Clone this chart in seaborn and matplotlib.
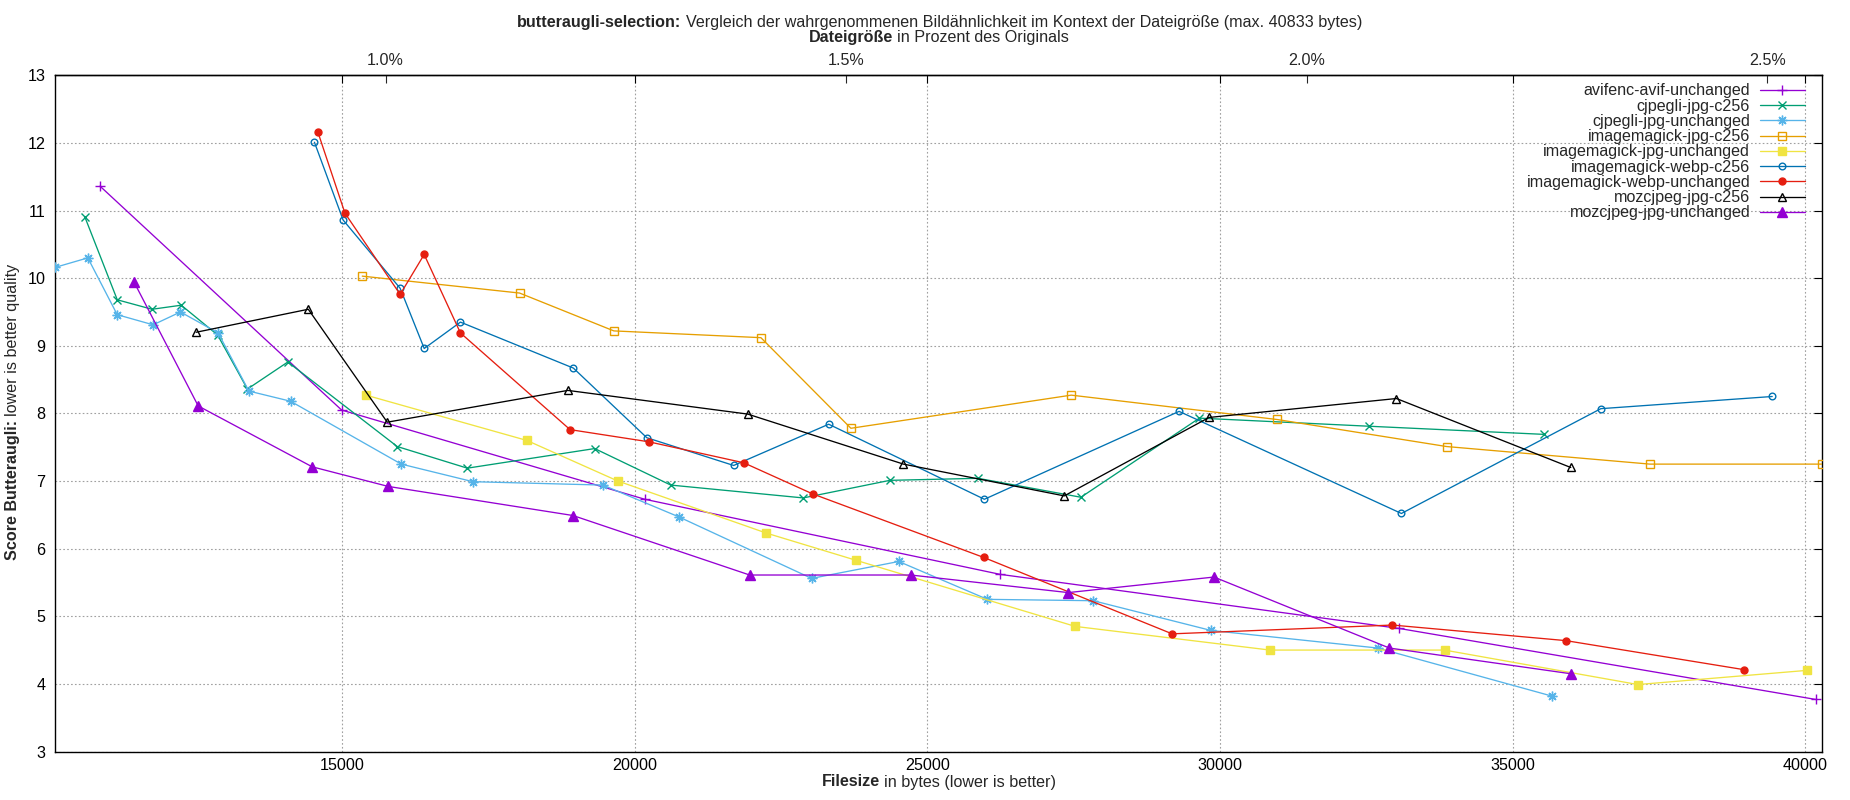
import matplotlib
matplotlib.use("Agg")
import matplotlib.pyplot as plt
import seaborn as sns
import numpy as np
import pandas as pd

# ---------------- data ----------------
series_names = [
    "avifenc-avif-unchanged",
    "cjpegli-jpg-c256",
    "cjpegli-jpg-unchanged",
    "imagemagick-jpg-c256",
    "imagemagick-jpg-unchanged",
    "imagemagick-webp-c256",
    "imagemagick-webp-unchanged",
    "mozcjpeg-jpg-c256",
    "mozcjpeg-jpg-unchanged",
]

avif_unchanged_x = [10862, 14989, 20171, 26240, 33060, 40177]
avif_unchanged_y = [11.36, 8.05, 6.73, 5.62, 4.82, 3.77]

cjpegli_c256_x = [10600, 11156, 11750, 12249, 12870, 13380, 14070, 15940, 17137,
                  19314, 20614, 22878, 24357, 25865, 27622, 29647, 32551, 35531]
cjpegli_c256_y = [10.91, 9.68, 9.54, 9.60, 9.16, 8.36, 8.76, 7.51, 7.19,
                  7.48, 6.94, 6.75, 7.01, 7.04, 6.76, 7.93, 7.81, 7.69]

cjpegli_unchanged_x = [10097, 10653, 11155, 11769, 12236, 12880, 13405, 14117, 16009,
                       17234, 19454, 20751, 23020, 24510, 26024, 27832, 29846, 32694, 35668]
cjpegli_unchanged_y = [10.16, 10.30, 9.46, 9.31, 9.50, 9.19, 8.33, 8.18, 7.25,
                       6.99, 6.94, 6.47, 5.56, 5.81, 5.25, 5.23, 4.79, 4.53, 3.82]

im_jpg_c256_x = [15342, 18030, 19641, 22154, 23692, 27457, 30972, 33870, 37346, 40291]
im_jpg_c256_y = [10.03, 9.78, 9.22, 9.12, 7.78, 8.27, 7.91, 7.51, 7.25, 7.25]

im_jpg_unchanged_x = [15406, 18155, 19710, 22247, 23771, 27525, 30853, 33836, 37140, 40034]
im_jpg_unchanged_y = [8.27, 7.60, 7.00, 6.23, 5.83, 4.85, 4.50, 4.50, 3.99, 4.20]

im_webp_c256_x = [14525, 15015, 15990, 16401, 17020, 18950, 20205, 21689, 23313,
                  25973, 29300, 33099, 36507, 39435]
im_webp_c256_y = [12.01, 10.86, 9.85, 8.96, 9.35, 8.67, 7.64, 7.23, 7.84,
                  6.73, 8.03, 6.52, 8.07, 8.25]

im_webp_unchanged_x = [14584, 15047, 15990, 16400, 17020, 18893, 20239, 21860, 23037,
                       25961, 29181, 32945, 35907, 38955]
im_webp_unchanged_y = [12.16, 10.96, 9.76, 10.35, 9.19, 7.76, 7.58, 7.27, 6.81,
                       5.87, 4.74, 4.87, 4.64, 4.21]

moz_c256_x = [12504, 14420, 15769, 18855, 21928, 24590, 27338, 29812, 33014, 35993]
moz_c256_y = [9.20, 9.54, 7.87, 8.34, 7.99, 7.25, 6.78, 7.94, 8.22, 7.20]

moz_unchanged_x = [11438, 12539, 14487, 15786, 18942, 21962, 24715, 27406, 29897, 32894, 35993]
moz_unchanged_y = [9.95, 8.11, 7.21, 6.92, 6.49, 5.61, 5.61, 5.35, 5.58, 4.53, 4.15]

series_x = [avif_unchanged_x, cjpegli_c256_x, cjpegli_unchanged_x, im_jpg_c256_x,
            im_jpg_unchanged_x, im_webp_c256_x, im_webp_unchanged_x, moz_c256_x, moz_unchanged_x]
series_y = [avif_unchanged_y, cjpegli_c256_y, cjpegli_unchanged_y, im_jpg_c256_y,
            im_jpg_unchanged_y, im_webp_c256_y, im_webp_unchanged_y, moz_c256_y, moz_unchanged_y]

x_ticks = [15000, 20000, 25000, 30000, 35000, 40000]
y_ticks = [3, 4, 5, 6, 7, 8, 9, 10, 11, 12, 13]
pct_ticks = [1.0, 1.5, 2.0, 2.5]
pct_tick_labels = ["1.0%", "1.5%", "2.0%", "2.5%"]
ORIGINAL_BYTES = 1574000.0

# ---------------- style ----------------
colors = ["#9400D3", "#009E73", "#56B4E9", "#E69F00", "#F0E442",
          "#0072B2", "#E51E10", "#000000", "#9400D3"]
markers = ["+", "x", (8, 2, 0), "s", "s", "o", "o", "^", "^"]
filled = [True, True, True, False, True, False, True, False, True]
msizes = [6.5, 5.5, 7, 5.2, 5.4, 4.8, 5.0, 6.2, 6.5]

sns.set_theme(style="white")
plt.rcParams["font.family"] = ["Liberation Sans", "DejaVu Sans"]
FS = 11.6

W, H = 1850, 800
fig = plt.figure(figsize=(W / 100, H / 100), dpi=100)
ax = fig.add_axes([55.3 / W, 1 - 751.5 / H, (1822.3 - 55.3) / W, (751.5 - 75.3) / H])

frames = []
for name, xs, ys in zip(series_names, series_x, series_y):
    frames.append(pd.DataFrame({"bytes": xs, "score": ys, "series": name}))
df = pd.concat(frames, ignore_index=True)

handles = []
for i, name in enumerate(series_names):
    sub = df[df["series"] == name]
    n_before = len(ax.lines)
    sns.lineplot(data=sub, x="bytes", y="score", ax=ax, color=colors[i],
                 marker=markers[i], markersize=msizes[i],
                 markerfacecolor=colors[i] if filled[i] else "none",
                 markeredgecolor=colors[i], markeredgewidth=1.0,
                 linewidth=0.95, estimator=None, sort=False, errorbar=None,
                 legend=False, zorder=3)
    ln = ax.lines[n_before]
    ln.set_label(name)
    handles.append(ln)

all_x = np.concatenate([np.asarray(v, float) for v in series_x])
ax.set_xlim(all_x.min(), all_x.max())
ax.set_ylim(3, 13)
ax.set_xticks(x_ticks)
ax.set_xticklabels([str(v) for v in x_ticks])
ax.set_yticks(y_ticks)
ax.set_yticklabels([str(v) for v in y_ticks])
ax.set_xlabel("")
ax.set_ylabel("")

ax.grid(True, color="#a0a0a0", linestyle=(0, (1.5, 2.0)), linewidth=0.8)
for sp in ax.spines.values():
    sp.set_visible(True)
    sp.set_color("black")
    sp.set_linewidth(1.0)

ax.tick_params(axis="both", which="both", direction="in", length=5.8, width=0.8,
               colors="black", labelsize=FS, top=True, right=True,
               labeltop=False, labelright=False)
ax.tick_params(axis="x", pad=4.4)
ax.tick_params(axis="y", pad=7.0)

secax = ax.secondary_xaxis("top", functions=(lambda b: b / ORIGINAL_BYTES * 100.0,
                                             lambda p: p * ORIGINAL_BYTES / 100.0))
secax.set_xticks(pct_ticks)
secax.set_xticklabels(pct_tick_labels)
secax.tick_params(direction="in", length=5.8, width=0.8, labelsize=FS, pad=5.6)
secax.spines["top"].set_linewidth(1.0)

leg = ax.legend(handles=handles, labels=series_names, loc="upper right",
                bbox_to_anchor=((1805 - 55.3) / (1822.3 - 55.3), 1 - (83.5 - 75.3) / (751.5 - 75.3)),
                frameon=False, markerfirst=False, fontsize=FS, handlelength=2.8,
                handletextpad=0.6, labelspacing=0.015, borderpad=0, borderaxespad=0,
                numpoints=1)

# ---------------- mixed bold / normal texts ----------------
renderer = fig.canvas.get_renderer()


def text_width(s, weight):
    t = fig.text(0, 0, s, fontsize=FS, fontweight=weight)
    w = t.get_window_extent(renderer).width
    t.remove()
    return w


space_w = text_width("a a", "normal") - text_width("aa", "normal")


def mixed_text(parts, center, baseline, rotation=0):
    widths = [text_width(s, w) for s, w in parts]
    total = sum(widths) + space_w * (len(parts) - 1)
    pos = -total / 2.0
    for (s, w), wd in zip(parts, widths):
        if rotation == 0:
            fig.text((center + pos) / W, 1 - baseline / H, s, fontsize=FS, fontweight=w,
                     ha="left", va="baseline")
        else:
            fig.text(baseline / W, 1 - (center - pos) / H, s, fontsize=FS, fontweight=w,
                     ha="left", va="baseline", rotation=90, rotation_mode="anchor")
        pos += wd + space_w


mixed_text([("butteraugli-selection:", "bold"),
            ("Vergleich der wahrgenommenen Bildähnlichkeit im Kontext der Dateigröße (max. 40833 bytes)", "normal")],
           940, 26.5)
mixed_text([("Dateigröße", "bold"), ("in Prozent des Originals", "normal")], 939, 42)
mixed_text([("Filesize", "bold"), ("in bytes (lower is better)", "normal")], 939, 786.5)
mixed_text([("Score Butteraugli:", "bold"), ("lower is better quality", "normal")], 412, 17.5, rotation=90)

fig.savefig("out.png", dpi=100, facecolor="white")
